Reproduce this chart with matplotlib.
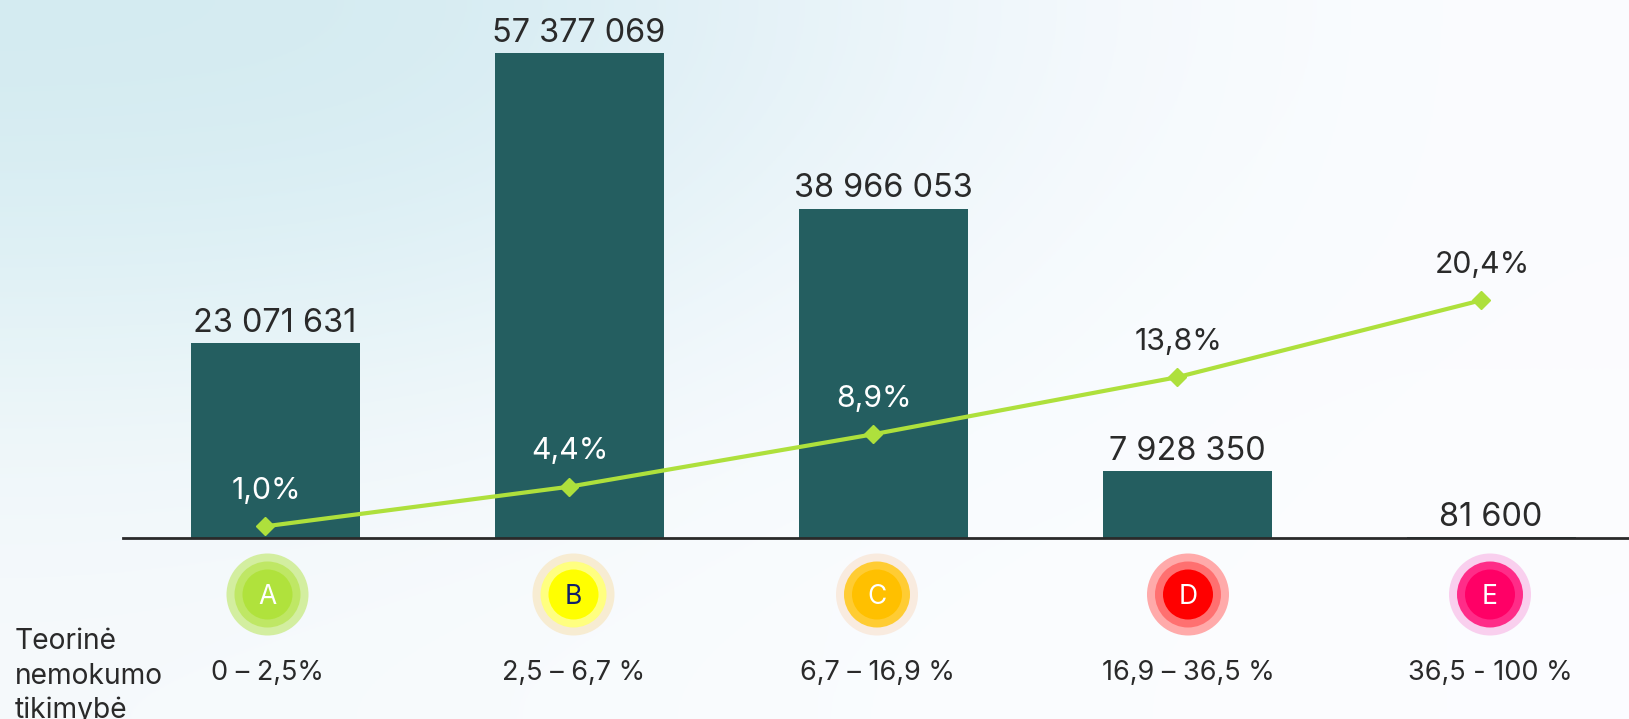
import numpy as np
import matplotlib
matplotlib.use("Agg")
import matplotlib.pyplot as plt
from matplotlib.patches import Circle

W, H = 1629, 719
plt.rcParams['font.family'] = ['Inter', 'DejaVu Sans']

classes = ['A', 'B', 'C', 'D', 'E']
amounts = [23071631, 57377069, 38966053, 7928350, 81600]
amount_labels = ['23 071 631', '57 377 069', '38 966 053', '7 928 350', '81 600']
rates = [1.0, 4.4, 8.9, 13.8, 20.4]
rate_labels = ['1,0%', '4,4%', '8,9%', '13,8%', '20,4%']
ranges = ['0 – 2,5%', '2,5 – 6,7 %', '6,7 – 16,9 %', '16,9 – 36,5 %', '36,5 - 100 %']
row_title = ['Teorinė', 'nemokumo', 'tikimybė']
ring_colors = [('#d3eea0', '#bfe765', '#b0e23c'),
               ('#f7ecd2', '#ffff80', '#ffff00'),
               ('#f9ebdf', '#ffcc33', '#ffc000'),
               ('#ffaaaa', '#ff7070', '#ff0000'),
               ('#f9cfee', '#ff2c88', '#ff0066')]
letter_colors = ['white', '#10206a', 'white', 'white', 'white']
label_rate_colors = ['white', 'white', 'white', '#2a2a2a', '#2a2a2a']

BAR = '#245e60'
LINE = '#aee03c'
TXT = '#2a2a2a'

fig = plt.figure(figsize=(W / 100, H / 100), dpi=100)

# background wash
bg = fig.add_axes([0, 0, 1, 1], zorder=0)
bg.axis('off')
grid = np.array([
    [[0xd4, 0xeb, 0xf1], [0xd6, 0xec, 0xf2], [0xe8, 0xf3, 0xf9], [0xf6, 0xfa, 0xfd], [0xfb, 0xfc, 0xff]],
    [[0xdf, 0xf1, 0xf5], [0xe2, 0xf2, 0xf7], [0xf0, 0xf7, 0xfb], [0xf8, 0xfc, 0xfe], [0xfb, 0xfc, 0xff]],
    [[0xf0, 0xf7, 0xfa], [0xf3, 0xf8, 0xfb], [0xf8, 0xfb, 0xfe], [0xfa, 0xfc, 0xff], [0xfc, 0xfc, 0xff]],
    [[0xf6, 0xfa, 0xfc], [0xf8, 0xfb, 0xfd], [0xfa, 0xfc, 0xfe], [0xfb, 0xfd, 0xff], [0xfc, 0xfc, 0xff]],
], dtype=float) / 255
bg.imshow(grid, aspect='auto', interpolation='bicubic', extent=[0, 1, 0, 1])

# main axes: bars and line share the category scale
axis_left, axis_bottom_px = 123, 538
ax = fig.add_axes([axis_left / W, 1 - axis_bottom_px / H, (W - axis_left) / W, axis_bottom_px / H], zorder=2)
ax.patch.set_alpha(0)
px_per_cat = 304.0
x0_px = 275
ax.set_xlim((axis_left - x0_px) / px_per_cat, (W - x0_px) / px_per_cat)
ax.set_ylim(0, 538 / 485 * max(amounts))
x = np.arange(len(classes))
ax.bar(x, amounts, width=169 / px_per_cat, color=BAR, zorder=2)
for s in ['top', 'right', 'left']:
    ax.spines[s].set_visible(False)
ax.spines['bottom'].set_color(TXT)
ax.spines['bottom'].set_linewidth(2.0)
ax.set_xticks([])
ax.set_yticks([])
for xi, v, lab in zip(x, amounts, amount_labels):
    ax.annotate(lab, (xi, v), xytext=(0, 3), textcoords='offset points', ha='center', va='bottom',
                fontsize=23.4, color=TXT, annotation_clip=False)

ax2 = ax.twinx()
ax2.patch.set_alpha(0)
ax2.set_ylim(0, 538 / 11.65)
ax2.axis('off')
xl = x - 10 / px_per_cat
ax2.plot(xl, rates, color=LINE, lw=3.0, marker='D', ms=9, mec=LINE, mfc=LINE, zorder=5)
for xi, r, lab, c in zip(xl, rates, rate_labels, label_rate_colors):
    ax2.annotate(lab, (xi, r), xytext=(1, 15.5), textcoords='offset points', ha='center', va='bottom',
                 fontsize=21.8, color=c, annotation_clip=False)

# row below the axis, in pixel space
ov = fig.add_axes([0, 0, 1, 1], zorder=3)
ov.patch.set_alpha(0)
ov.axis('off')
ov.set_xlim(0, W)
ov.set_ylim(H, 0)
centers = [267.5, 573.5, 877, 1188, 1490]
for cx, rings, letter, lc, rng in zip(centers, ring_colors, classes, letter_colors, ranges):
    for r, col in zip((41, 33, 25), rings):
        ov.add_patch(Circle((cx, 594.5), r, fc=col, ec='none'))
    ov.text(cx, 597, letter, ha='center', va='center', fontsize=19, color=lc)
    ov.text(cx, 673, rng, ha='center', va='center', fontsize=19.5, color=TXT)
for base, line in zip((649, 684, 718), row_title):
    ov.text(15, base, line, ha='left', va='baseline', fontsize=20.3, color=TXT)

fig.savefig('out.png', dpi=100)
